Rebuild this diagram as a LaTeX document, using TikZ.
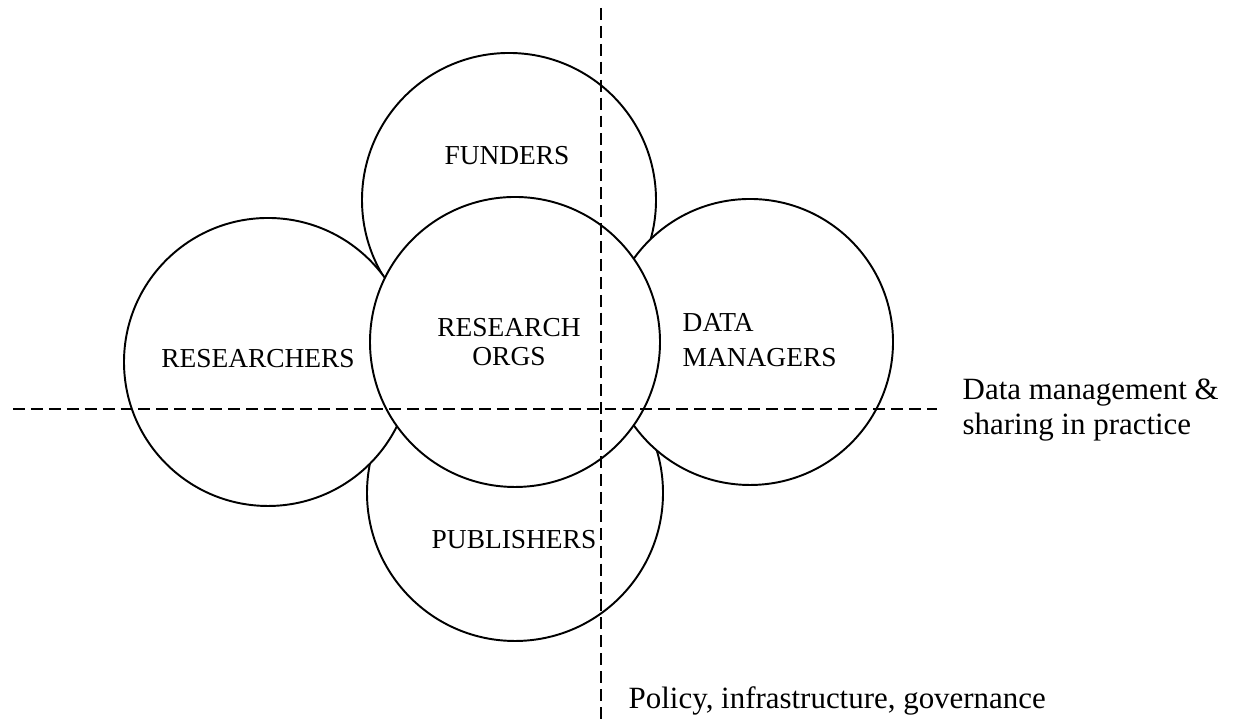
\documentclass[tikz,border=0pt]{standalone}
\usepackage{fontspec}
\setmainfont{Liberation Serif}
\tikzset{
  circ/.style={circle, draw, fill=white, line width=0.55pt, inner sep=0pt, outer sep=0pt},
  lab/.style={font=\fontsize{7.8}{8.3}\selectfont, inner sep=0pt},
  note/.style={font=\fontsize{8.8}{10}\selectfont, inner sep=0pt},
  divider/.style={line width=0.6pt, dash pattern=on 3.4pt off 1.7pt}
}
\begin{document}
\begin{tikzpicture}
    \useasboundingbox (0,0) rectangle (12.47,7.23);
    \node[circ, minimum size=2.96cm] (pub) at (5.15,2.30) {};
    \node[circ, minimum size=2.94cm] (fund) at (5.09,5.23) {};
    \node[circ, minimum size=2.88cm] (res) at (2.68,3.61) {};
    \node[circ, minimum size=2.86cm] (dm) at (7.50,3.81) {};
    \node[circ, minimum size=2.90cm] (org) at (5.15,3.81) {};
    \coordinate (hl) at (0.13,3.14);
    \coordinate (hr) at (9.37,3.14);
    \coordinate (vt) at (6.01,7.15);
    \coordinate (vb) at (6.01,0);
    \draw [divider] (hl)--(hr);
    \draw [divider] (vt)--(vb);
    \node[lab] (tfund) at (5.07,5.67) {FUNDERS};
    \node[lab] (tres) at (2.58,3.64) {RESEARCHERS};
    \node[lab, align=center] (torg) at (5.09,3.81) {RESEARCH\\ORGS};
    \node[lab, align=left, anchor=west, font=\fontsize{7.8}{10.1}\selectfont] (tdm) at (6.82,3.83) {DATA\\MANAGERS};
    \node[lab] (tpub) at (5.14,1.83) {PUBLISHERS};
    \node[note, align=left, anchor=west] (tprac) at (9.62,3.13) {Data management \&\\sharing in practice};
    \node[note, anchor=base west] (tpol) at (6.28,0.14) {Policy, infrastructure, governance};
\end{tikzpicture}
\end{document}
